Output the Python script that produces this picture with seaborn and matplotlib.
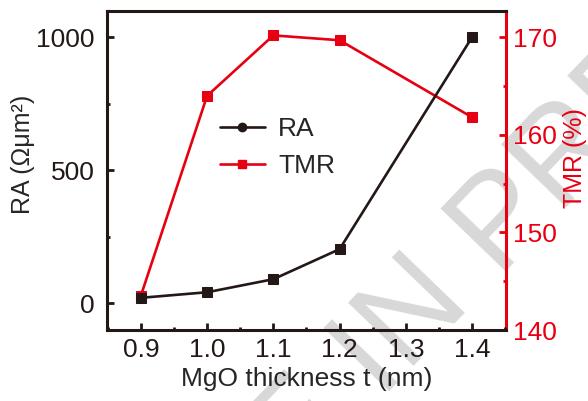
import matplotlib
matplotlib.use("Agg")
import matplotlib.pyplot as plt
from matplotlib.lines import Line2D
from matplotlib.ticker import MultipleLocator
import seaborn as sns
import pandas as pd

thickness = [0.9, 1.0, 1.1, 1.2, 1.4]
ra_values = [20, 41, 90, 203, 1000]
tmr_values = [143.5, 164.0, 170.2, 169.7, 161.8]
x_ticks = [0.9, 1.0, 1.1, 1.2, 1.3, 1.4]
ra_ticks = [0, 500, 1000]
tmr_ticks = [140, 150, 160, 170]

BLACK = "#231815"
RED = "#e60012"

sns.set_style("ticks")
plt.rcParams["font.family"] = ["Liberation Sans", "DejaVu Sans"]
plt.rcParams["font.size"] = 19

df = pd.DataFrame({"t": thickness, "RA": ra_values, "TMR": tmr_values})

fig = plt.figure(figsize=(5.88, 4.01), dpi=100)
ax = fig.add_axes([0.182, 0.177, 0.6785, 0.7956])
ax.patch.set_alpha(0)

# watermark
fig.text(0.62, 0.085, "ARTICLE IN PRESS", rotation=46, rotation_mode="anchor",
         ha="center", va="center", fontsize=95, color="#d8d8d8", zorder=-10)

sns.lineplot(data=df, x="t", y="RA", ax=ax, color=BLACK, marker="s",
             markersize=7, markeredgecolor=BLACK, linewidth=1.9, zorder=3)
ax2 = ax.twinx()
ax2.patch.set_alpha(0)
sns.lineplot(data=df, x="t", y="TMR", ax=ax2, color=RED, marker="s",
             markersize=7, markeredgecolor=RED, linewidth=1.9, zorder=3)

ax.set_xlim(0.849, 1.451)
ax.set_ylim(-101, 1098)
ax2.set_ylim(140, 172.7)

ax.set_xticks(x_ticks)
ax.set_xticklabels([f"{v:.1f}" for v in x_ticks])
ax.set_yticks(ra_ticks)
ax2.set_yticks(tmr_ticks)
ax.xaxis.set_minor_locator(MultipleLocator(0.05))
ax.yaxis.set_minor_locator(MultipleLocator(250))
ax2.yaxis.set_minor_locator(MultipleLocator(5))

ax.set_xlabel("MgO thickness t (nm)", fontsize=19, labelpad=3)
ax.set_ylabel("RA (Ωμm²)", fontsize=18)
ax2.set_ylabel("TMR (%)", fontsize=18, color=RED)
ax.yaxis.set_label_coords(-0.18, 0.55)
ax2.yaxis.set_label_coords(1.142, 0.54)

for s in ["left", "bottom", "top"]:
    ax.spines[s].set_linewidth(2.2)
    ax.spines[s].set_color(BLACK)
ax.spines["right"].set_visible(False)
for s in ["left", "bottom", "top"]:
    ax2.spines[s].set_visible(False)
ax2.spines["right"].set_linewidth(2.2)
ax2.spines["right"].set_color(RED)

ax.tick_params(axis="both", which="major", direction="in", length=5, width=2,
               color=BLACK, labelsize=19, labelcolor=BLACK)
ax.tick_params(axis="both", which="minor", direction="in", length=2.5, width=2, color=BLACK)
ax.tick_params(axis="y", which="major", pad=9)
ax.tick_params(axis="x", which="major", pad=6)
ax.tick_params(top=False, right=False, which="both")
ax2.tick_params(axis="y", which="major", direction="in", length=5, width=2,
                color=RED, labelsize=19, labelcolor=RED, pad=5)
ax2.tick_params(axis="y", which="minor", direction="in", length=2.5, width=2, color=RED)

handles = [Line2D([0], [0], color=BLACK, lw=1.9, marker="o", markersize=6),
           Line2D([0], [0], color=RED, lw=1.9, marker="s", markersize=6)]
leg = ax.legend(handles, ["RA", "TMR"], loc="center left",
                bbox_to_anchor=(0.283, 0.572), frameon=False, fontsize=19,
                handlelength=1.7, handletextpad=0.5, labelspacing=0.5,
                borderaxespad=0, borderpad=0)
leg.set_zorder(10)
ax.set_zorder(ax2.get_zorder() + 1)

fig.savefig("out.png", dpi=100)
